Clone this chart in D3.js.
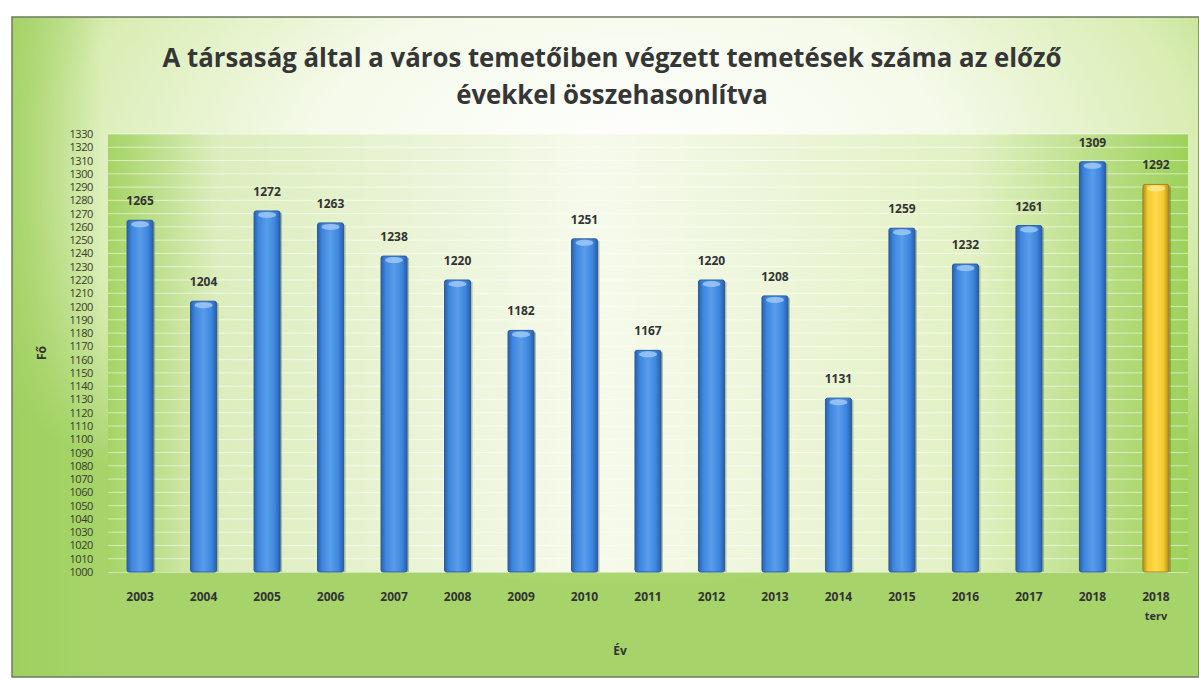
<!DOCTYPE html>
<html>
<head>
<meta charset="utf-8">
<script src="https://cdn.jsdelivr.net/npm/d3@7"></script>
<style>
  body { margin: 0; background: #fff; }
  svg { display: block; }
  text { font-family: "Open Sans", "Noto Sans", sans-serif; }
</style>
</head>
<body>
<div id="chart"></div>
<script>
// adatok
var years = ['2003', '2004', '2005', '2006', '2007', '2008', '2009', '2010', '2011',
  '2012', '2013', '2014', '2015', '2016', '2017', '2018', '2018 terv'];
var burials = [1265, 1204, 1272, 1263, 1238, 1220, 1182, 1251, 1167,
  1220, 1208, 1131, 1259, 1232, 1261, 1309, 1292];
var planIndex = [16];
var yTicks = d3.range(1000, 1331, 10);
var titleLines = ['A társaság által a város temetőiben végzett temetések száma az előző', 'évekkel összehasonlítva'];

var width = 1199;
var height = 681;

// rajzterület
var margin = { top: 134, right: 11, bottom: 109, left: 108 };
var w = width - margin.left - margin.right;
var h = height - margin.top - margin.bottom;

var svg = d3.select('#chart').append('svg')
  .attr('width', width).attr('height', height);

var defs = svg.append('defs');

// háttér színátmenet
var bg = defs.append('radialGradient').attr('id', 'bgGrad')
  .attr('cx', '0.52').attr('cy', '0.22').attr('r', '0.64');
bg.append('stop').attr('offset', '0%').attr('stop-color', '#ffffff');
bg.append('stop').attr('offset', '42%').attr('stop-color', '#f5faea');
bg.append('stop').attr('offset', '75%').attr('stop-color', '#d9edb3');
bg.append('stop').attr('offset', '100%').attr('stop-color', '#a6d46a');

// bal oldali zöld sáv
var leftGrad = defs.append('linearGradient').attr('id', 'leftGrad')
  .attr('x1', '0').attr('x2', '1').attr('y1', '0').attr('y2', '0');
leftGrad.append('stop').attr('offset', '0%').attr('stop-color', '#9dcf5c').attr('stop-opacity', 0.8);
leftGrad.append('stop').attr('offset', '100%').attr('stop-color', '#9dcf5c').attr('stop-opacity', 0);

var plotGrad = defs.append('linearGradient').attr('id', 'plotGrad')
  .attr('x1', '0').attr('x2', '1').attr('y1', '0').attr('y2', '0');
plotGrad.append('stop').attr('offset', '0%').attr('stop-color', '#a5d465');
plotGrad.append('stop').attr('offset', '10%').attr('stop-color', '#dcedbd');
plotGrad.append('stop').attr('offset', '45%').attr('stop-color', '#f6faec');
plotGrad.append('stop').attr('offset', '80%').attr('stop-color', '#e2f1c4');
plotGrad.append('stop').attr('offset', '100%').attr('stop-color', '#9dd15a');

function barGradient(id, dark, mid, light) {
  var g = defs.append('linearGradient').attr('id', id)
    .attr('x1', '0').attr('x2', '1').attr('y1', '0').attr('y2', '0');
  g.append('stop').attr('offset', '0%').attr('stop-color', dark);
  g.append('stop').attr('offset', '18%').attr('stop-color', mid);
  g.append('stop').attr('offset', '50%').attr('stop-color', light);
  g.append('stop').attr('offset', '80%').attr('stop-color', mid);
  g.append('stop').attr('offset', '100%').attr('stop-color', dark);
}
barGradient('blueGrad', '#2a5fa8', '#3d86df', '#5a9cea');
barGradient('yellowGrad', '#b08a1a', '#f2c92f', '#ffd94a');

// keret
svg.append('rect')
  .attr('x', 12).attr('y', 17)
  .attr('width', width - 12).attr('height', 660)
  .attr('fill', 'url(#bgGrad)');
svg.append('rect')
  .attr('x', 12).attr('y', 17)
  .attr('width', 90).attr('height', 660)
  .attr('fill', 'url(#leftGrad)');
svg.append('rect')
  .attr('x', 12).attr('y', 17)
  .attr('width', width - 12).attr('height', 660)
  .attr('fill', 'none')
  .attr('stroke', '#6f7a62').attr('stroke-width', 1.5);

// skálák
var x = d3.scaleBand().domain(years).range([0, w]).paddingInner(0.59).paddingOuter(0.3);
var y = d3.scaleLinear().domain([1000, 1330]).range([h, 0]);

var g = svg.append('g')
  .attr('transform', 'translate(' + margin.left + ',' + margin.top + ')');

g.append('rect')
  .attr('width', w).attr('height', h)
  .attr('fill', 'url(#plotGrad)');

// rácsvonalak
g.selectAll('.grid').data(yTicks.slice(1)).enter()
  .append('line')
  .attr('class', 'grid')
  .attr('x1', 0).attr('x2', w)
  .attr('y1', function(d) { return y(d); })
  .attr('y2', function(d) { return y(d); })
  .attr('stroke', '#ffffff').attr('stroke-opacity', 0.55).attr('stroke-width', 1);

// y tengely
var yAxis = g.append('g')
  .call(d3.axisLeft(y).tickValues(yTicks).tickFormat(d3.format('d')).tickSize(0).tickPadding(15));
yAxis.select('.domain').remove();
yAxis.selectAll('text')
  .attr('fill', '#3a3a30')
  .style('font-size', '11px')
  .style('letter-spacing', '-0.4px');

// x tengely
var xAxis = g.append('g')
  .attr('transform', 'translate(0,' + h + ')')
  .call(d3.axisBottom(x).tickSize(0).tickPadding(20));
xAxis.select('.domain').attr('stroke', '#d4e4b8');
xAxis.selectAll('text')
  .attr('fill', '#333')
  .style('font-size', '12px')
  .style('font-weight', '700')
  .each(function(d) {
    var parts = d.split(' ');
    var t = d3.select(this).text(null);
    parts.forEach(function(p, i) {
      t.append('tspan').attr('x', 0).attr('dy', i === 0 ? '0.71em' : '1.8em')
        .style('font-size', i === 0 ? '12px' : '11px')
        .text(p);
    });
  });

// oszlopok
var bars = g.selectAll('.bar').data(burials).enter()
  .append('g').attr('class', 'bar');

bars.append('rect')
  .attr('x', function(d, i) { return x(years[i]) + 2; })
  .attr('y', function(d) { return y(d) + 2; })
  .attr('width', x.bandwidth())
  .attr('height', function(d) { return h - y(d) - 2; })
  .attr('fill', '#4a5a40').attr('opacity', 0.35);

bars.append('rect')
  .attr('x', function(d, i) { return x(years[i]); })
  .attr('y', function(d) { return y(d); })
  .attr('width', x.bandwidth())
  .attr('height', function(d) { return h - y(d); })
  .attr('rx', 2)
  .attr('fill', function(d, i) { return planIndex.indexOf(i) >= 0 ? 'url(#yellowGrad)' : 'url(#blueGrad)'; })
  .attr('stroke', function(d, i) { return planIndex.indexOf(i) >= 0 ? '#a8841c' : '#2b5c9e'; })
  .attr('stroke-width', 1);

// kupak kiemelés
bars.append('ellipse')
  .attr('cx', function(d, i) { return x(years[i]) + x.bandwidth() / 2; })
  .attr('cy', function(d) { return y(d) + 4; })
  .attr('rx', x.bandwidth() / 2 - 4)
  .attr('ry', 3)
  .attr('fill', function(d, i) { return planIndex.indexOf(i) >= 0 ? '#ffe98a' : '#9cc8f5'; })
  .attr('opacity', 0.85);

// értékcímkék
bars.append('text')
  .attr('x', function(d, i) { return x(years[i]) + x.bandwidth() / 2; })
  .attr('y', function(d) { return y(d) - 15; })
  .attr('text-anchor', 'middle')
  .attr('fill', '#333')
  .style('font-size', '12px')
  .style('font-weight', '700')
  .text(function(d) { return d; });

// tengelycímek
svg.append('text')
  .attr('transform', 'translate(46,' + (margin.top + h / 2) + ') rotate(-90)')
  .attr('text-anchor', 'middle')
  .attr('fill', '#333')
  .style('font-size', '12px')
  .style('font-weight', '700')
  .text('Fő');

svg.append('text')
  .attr('x', 620).attr('y', 655)
  .attr('text-anchor', 'middle')
  .attr('fill', '#333')
  .style('font-size', '12px')
  .style('font-weight', '700')
  .text('Év');

// cím - az eredeti keskenyebb betűtípushoz igazítva
var titles = svg.selectAll('.title').data(titleLines).enter()
  .append('text')
  .attr('class', 'title')
  .attr('x', 612)
  .attr('y', function(d, i) { return 67 + i * 37; })
  .attr('text-anchor', 'middle')
  .attr('fill', '#363636')
  .style('font-size', '27px')
  .style('font-weight', '700')
  .text(function(d) { return d; });

var squeeze = 899 / titles.node().getComputedTextLength();
titles.each(function() {
  var len = this.getComputedTextLength();
  d3.select(this).attr('textLength', len * squeeze).attr('lengthAdjust', 'spacingAndGlyphs');
});
</script>
</body>
</html>
